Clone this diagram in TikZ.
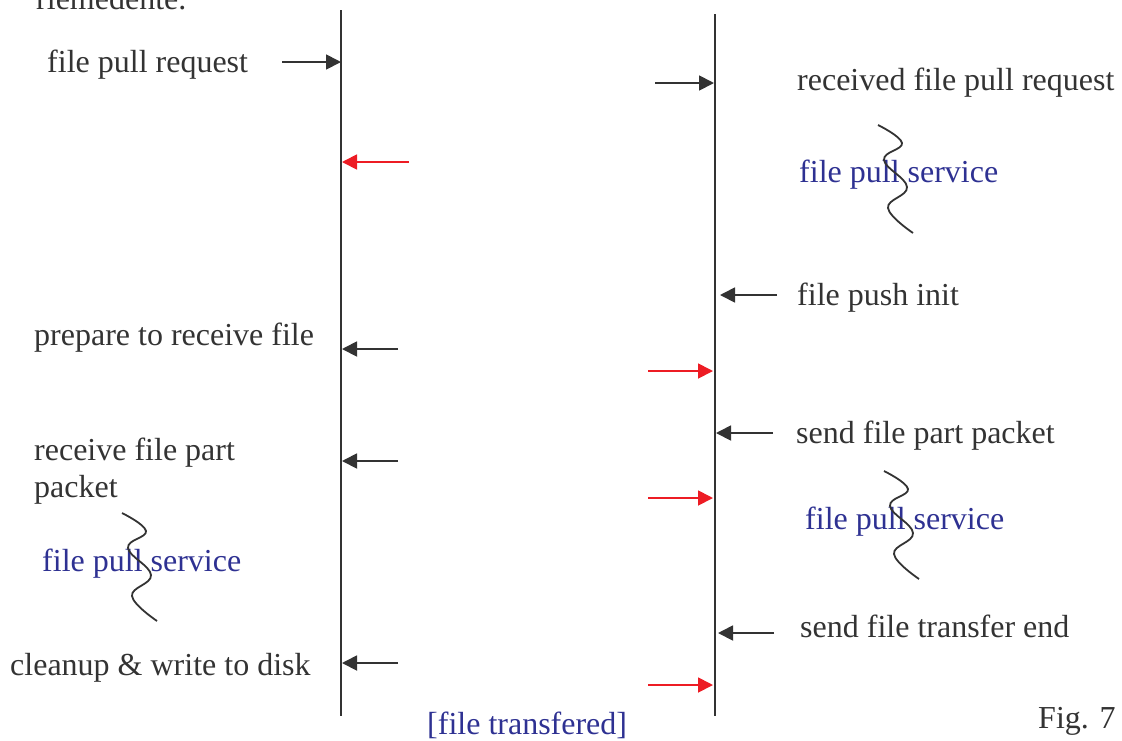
\documentclass[tikz,border=0pt]{standalone}
\usepackage{fontspec}
\setmainfont{Liberation Serif}
\usetikzlibrary{arrows.meta}
\definecolor{ink}{HTML}{333333}
\definecolor{msgred}{HTML}{ED1C24}
\definecolor{svcblue}{HTML}{2E3192}
\tikzset{
  lifeline/.style={draw=ink, line width=1.8pt},
  msg/.style={draw=ink, line width=1.8pt, -{Triangle[length=15pt,width=15pt]}},
  reply/.style={draw=msgred, line width=1.8pt, -{Triangle[length=15pt,width=15pt]}},
  lbl/.style={anchor=base west, inner sep=0pt, text=ink, font=\fontsize{32}{38}\selectfont},
  svc/.style={lbl, text=svcblue},
  wave/.style={draw=ink, line width=1.8pt}
}
\begin{document}
\begin{tikzpicture}[x=1pt,y=-1pt]
\useasboundingbox (0,0) rectangle (1122,740);
\begin{scope}
\clip (0,0) rectangle (1122,740);
\node[lbl] (prev) at (36,9) {riemedente.};
\end{scope}

% lifelines
\coordinate (Ltop) at (341,10);
\coordinate (Lbot) at (341,716);
\coordinate (Rtop) at (715,14);
\coordinate (Rbot) at (715,716);
\draw[lifeline] (Ltop) -- (Lbot);
\draw[lifeline] (Rtop) -- (Rbot);

% left side labels
\node[lbl] (req) at (47,72) {file pull request};
\node[lbl] (prep) at (34,345) {prepare to receive file};
\node[lbl] (rcv1) at (34,460) {receive file part};
\node[lbl] (rcv2) at (34,497) {packet};
\node[svc] (svcL) at (42,571) {file pull service};
\node[lbl] (clean) at (10,675) {cleanup \& write to disk};

% right side labels
\node[lbl] (got) at (797,90) {received file pull request};
\node[svc] (svcR1) at (799,182) {file pull service};
\node[lbl] (push) at (797,305) {file push init};
\node[lbl] (send) at (796,443) {send file part packet};
\node[svc] (svcR2) at (805,529) {file pull service};
\node[lbl] (endt) at (800,637) {send file transfer end};

\node[svc] (done) at (427,734) {[file transfered]};
\node[lbl] (fig) at (1038,728) {Fig. 7};

% black messages
\coordinate (a1s) at (282,62);  \coordinate (a1e) at (341,62);
\coordinate (a2s) at (655,83);  \coordinate (a2e) at (714,83);
\coordinate (a3s) at (777,295); \coordinate (a3e) at (720,295);
\coordinate (a4s) at (398,349); \coordinate (a4e) at (342,349);
\coordinate (a5s) at (773,433); \coordinate (a5e) at (716,433);
\coordinate (a6s) at (398,461); \coordinate (a6e) at (342,461);
\coordinate (a7s) at (774,633); \coordinate (a7e) at (718,633);
\coordinate (a8s) at (398,663); \coordinate (a8e) at (342,663);
\foreach \i in {1,...,8} \draw[msg] (a\i s) -- (a\i e);

% red messages
\coordinate (r1s) at (409,162); \coordinate (r1e) at (342,162);
\coordinate (r2s) at (648,371); \coordinate (r2e) at (713,371);
\coordinate (r3s) at (648,498); \coordinate (r3e) at (713,498);
\coordinate (r4s) at (648,685); \coordinate (r4e) at (713,685);
\foreach \i in {1,...,4} \draw[reply] (r\i s) -- (r\i e);

% service squiggles
\draw[wave] plot[smooth, tension=0.7] coordinates {(878,125) (902,143) (884,160) (907,187) (888,208) (913,233)};
\draw[wave] plot[smooth, tension=0.7] coordinates {(884,471) (908,489) (890,506) (913,533) (894,554) (919,579)};
\draw[wave] plot[smooth, tension=0.7] coordinates {(122,513) (146,531) (128,548) (151,575) (132,596) (157,621)};
\end{tikzpicture}
\end{document}
